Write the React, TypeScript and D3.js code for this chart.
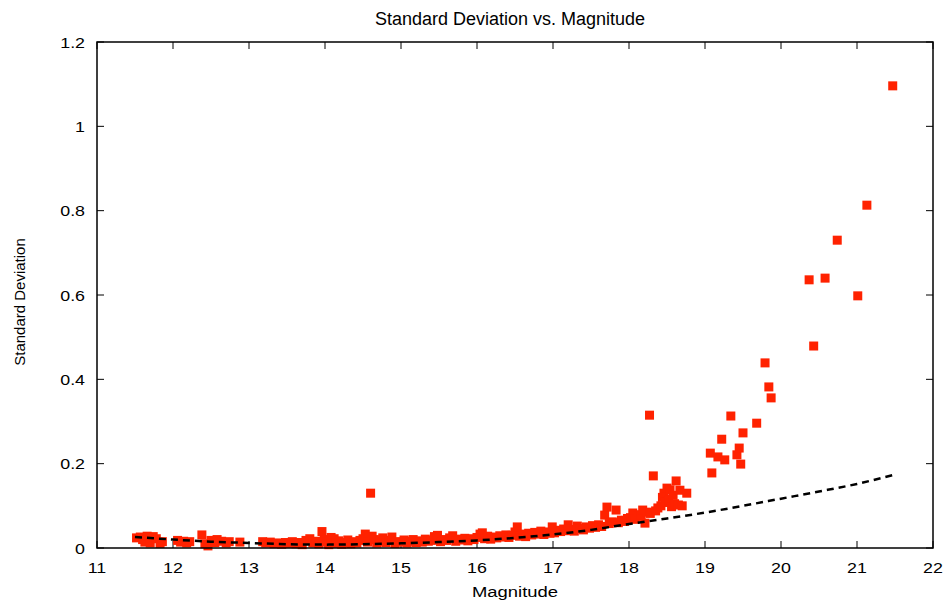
import React from "react";
import * as d3 from "d3";

const magnitude: number[] = [
  11.52, 11.57, 11.60, 11.63, 11.66, 11.70, 11.74, 11.78, 11.83, 11.86,
  12.06, 12.10, 12.14, 12.18, 12.22, 12.38, 12.42, 12.46, 12.50, 12.55, 12.58, 12.64, 12.70, 12.74, 12.88,
  13.18, 13.22, 13.28, 13.33, 13.38, 13.43, 13.48, 13.52, 13.57, 13.62, 13.66, 13.70, 13.75, 13.80, 13.84, 13.88, 13.92, 13.96, 13.99,
  14.02, 14.05, 14.08, 14.12, 14.15, 14.18, 14.22, 14.26, 14.30, 14.34, 14.38, 14.42, 14.46, 14.50, 14.53, 14.56, 14.60, 14.62, 14.65, 14.68, 14.72, 14.76, 14.80, 14.84, 14.88, 14.92, 14.96,
  15.00, 15.04, 15.08, 15.12, 15.16, 15.20, 15.24, 15.28, 15.32, 15.36, 15.40, 15.44, 15.48, 15.52, 15.56, 15.60, 15.64, 15.68, 15.72, 15.76, 15.80, 15.84, 15.88, 15.92, 15.96,
  16.00, 16.04, 16.07, 16.10, 16.14, 16.18, 16.22, 16.26, 16.30, 16.34, 16.38, 16.42, 16.46, 16.50, 16.53, 16.56, 16.60, 16.64, 16.68, 16.72, 16.76, 16.80, 16.84, 16.88, 16.92, 16.96, 16.99,
  17.02, 17.06, 17.10, 17.14, 17.18, 17.20, 17.24, 17.28, 17.32, 17.36, 17.40, 17.44, 17.48, 17.52, 17.56, 17.60, 17.64, 17.68, 17.71, 17.74, 17.78, 17.83, 17.86, 17.90, 17.94, 17.98,
  18.02, 18.05, 18.08, 18.12, 18.16, 18.18, 18.21, 18.24, 18.27, 18.28, 18.32, 18.35, 18.38, 18.42, 18.44, 18.46, 18.48, 18.50, 18.52, 18.54, 18.56, 18.58, 18.60, 18.62, 18.65, 18.67, 18.70, 18.76,
  19.07, 19.09, 19.17, 19.22, 19.26, 19.34, 19.42, 19.45, 19.47, 19.50, 19.68, 19.79, 19.84, 19.87,
  20.37, 20.43, 20.58, 20.74, 21.01, 21.13, 21.47,
];

const stdDev: number[] = [
  0.024, 0.026, 0.020, 0.014, 0.028, 0.012, 0.027, 0.022, 0.011, 0.015,
  0.018, 0.014, 0.016, 0.012, 0.015, 0.031, 0.010, 0.005, 0.018, 0.013, 0.020, 0.016, 0.012, 0.015, 0.014,
  0.015, 0.012, 0.014, 0.010, 0.012, 0.009, 0.013, 0.011, 0.015, 0.010, 0.013, 0.008, 0.018, 0.022, 0.012, 0.016, 0.010, 0.039, 0.020,
  0.014, 0.008, 0.025, 0.022, 0.011, 0.017, 0.009, 0.013, 0.019, 0.010, 0.015, 0.012, 0.018, 0.022, 0.033, 0.014, 0.130, 0.028, 0.020, 0.012, 0.016, 0.024, 0.013, 0.018, 0.026, 0.011, 0.015,
  0.014, 0.019, 0.012, 0.016, 0.020, 0.013, 0.017, 0.014, 0.021, 0.016, 0.018, 0.027, 0.030, 0.015, 0.020, 0.018, 0.024, 0.029, 0.016, 0.021, 0.019, 0.023, 0.017, 0.022, 0.020,
  0.025, 0.033, 0.036, 0.022, 0.028, 0.021, 0.026, 0.024, 0.029, 0.026, 0.031, 0.025, 0.030, 0.038, 0.050, 0.028, 0.033, 0.027, 0.035, 0.031, 0.037, 0.033, 0.040, 0.032, 0.038, 0.035, 0.050,
  0.036, 0.042, 0.039, 0.045, 0.041, 0.055, 0.044, 0.040, 0.052, 0.046, 0.043, 0.050, 0.047, 0.053, 0.049, 0.055, 0.051, 0.078, 0.097, 0.058, 0.062, 0.090, 0.060, 0.066, 0.063, 0.070,
  0.072, 0.083, 0.068, 0.075, 0.079, 0.090, 0.059, 0.085, 0.315, 0.082, 0.171, 0.088, 0.095, 0.100, 0.120, 0.130, 0.108, 0.142, 0.115, 0.138, 0.098, 0.125, 0.105, 0.159, 0.102, 0.137, 0.100, 0.130,
  0.225, 0.178, 0.216, 0.258, 0.209, 0.313, 0.221, 0.237, 0.199, 0.273, 0.296, 0.439, 0.382, 0.356,
  0.636, 0.479, 0.640, 0.730, 0.598, 0.813, 1.096,
];

const fitMag: number[] = [11.5, 12, 12.5, 13, 13.5, 14, 14.5, 15, 15.5, 16, 16.5, 17, 17.5, 18, 18.5, 19, 19.5, 20, 20.5, 21, 21.47];
const fitSd: number[] = [0.026, 0.020, 0.015, 0.012, 0.009, 0.008, 0.009, 0.011, 0.014, 0.018, 0.024, 0.032, 0.043, 0.057, 0.070, 0.084, 0.100, 0.117, 0.134, 0.152, 0.173];

const xTicks: number[] = [11, 12, 13, 14, 15, 16, 17, 18, 19, 20, 21, 22];
const yTicks: number[] = [0, 0.2, 0.4, 0.6, 0.8, 1, 1.2];

const W = 948;
const H = 601;
const left = 97;
const right = 933;
const top = 42;
const bottom = 548;
const FONT = "'Liberation Sans', Arial, Helvetica, sans-serif";
const RED = "#ff2200";

export default function App() {
  const x = d3.scaleLinear().domain([11, 22]).range([left, right]);
  const y = d3.scaleLinear().domain([0, 1.2]).range([bottom, top]);
  const line = d3
    .line<number>()
    .x((_, i) => x(fitMag[i]))
    .y((d) => y(d))
    .curve(d3.curveMonotoneX);
  const tl = 7;
  const ms = 9;
  const sx = 1.15;
  return (
    <svg width={W} height={H} style={{ position: "absolute", left: 0, top: 0, background: "#fff" }}>
      <text x={510} y={25} textAnchor="middle" fontFamily={FONT} fontSize={18}>
        Standard Deviation vs. Magnitude
      </text>
      {xTicks.map((t) => (
        <g key={"x" + t}>
          <line x1={x(t)} x2={x(t)} y1={bottom} y2={bottom - tl} stroke="#000" strokeWidth={1} />
          <line x1={x(t)} x2={x(t)} y1={top} y2={top + tl} stroke="#000" strokeWidth={1} />
          <text
            transform={`translate(${x(t)}, 573) scale(${sx}, 1)`}
            textAnchor="middle"
            fontFamily={FONT}
            fontSize={15.5}
          >
            {t}
          </text>
        </g>
      ))}
      {yTicks.map((t) => (
        <g key={"y" + t}>
          <line x1={left} x2={left + tl} y1={y(t)} y2={y(t)} stroke="#000" strokeWidth={1} />
          <line x1={right} x2={right - tl} y1={y(t)} y2={y(t)} stroke="#000" strokeWidth={1} />
          <text
            transform={`translate(85, ${y(t) + 5.5}) scale(${sx}, 1)`}
            textAnchor="end"
            fontFamily={FONT}
            fontSize={15.5}
          >
            {d3.format("~g")(t)}
          </text>
        </g>
      ))}
      <text
        x={515}
        y={597}
        textAnchor="middle"
        fontFamily={FONT}
        fontSize={15.5}
        textLength={86}
        lengthAdjust="spacingAndGlyphs"
      >
        Magnitude
      </text>
      <text
        transform={`translate(25, ${(top + bottom) / 2 + 7}) rotate(-90)`}
        textAnchor="middle"
        fontFamily={FONT}
        fontSize={15}
      >
        Standard Deviation
      </text>
      {magnitude.map((m, i) => (
        <rect
          key={"p" + i}
          x={x(m) - ms / 2}
          y={y(stdDev[i]) - ms / 2}
          width={ms}
          height={ms}
          fill={RED}
        />
      ))}
      <path d={line(fitSd) || ""} fill="none" stroke="#000" strokeWidth={2.5} strokeDasharray="7,5" />
      <rect x={left} y={top} width={right - left} height={bottom - top} fill="none" stroke="#000" strokeWidth={1.5} />
    </svg>
  );
}
